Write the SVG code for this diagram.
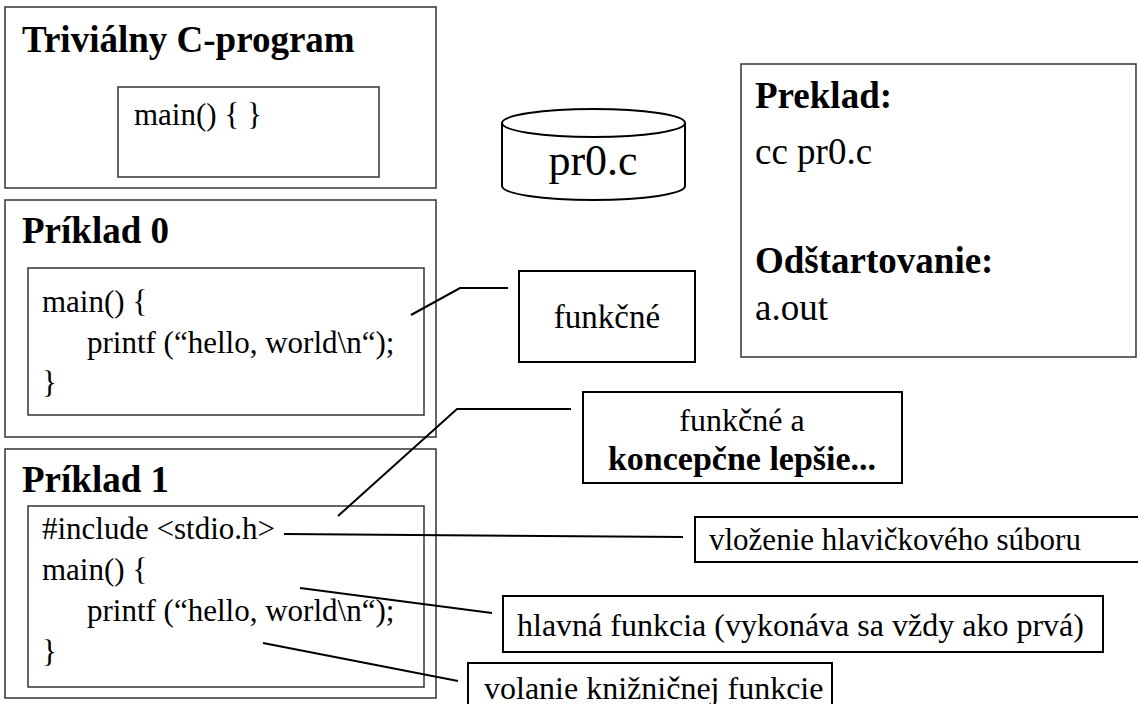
<svg xmlns="http://www.w3.org/2000/svg" width="1138" height="704" viewBox="0 0 1138 704">
<style>
text{font-family:"Times New Roman","Liberation Serif","DejaVu Serif",serif;fill:#000}
.t{font-weight:bold;font-size:37px}
.c{font-size:31px}
.l{font-size:32px}
.outer{fill:#fff;stroke:#333;stroke-width:1.5}
.inner{fill:none;stroke:#333;stroke-width:1.5}
.box{fill:#fff;stroke:#000;stroke-width:2}
.con{fill:none;stroke:#000;stroke-width:2}
</style>
<rect width="1138" height="704" fill="#fff"/>
<g id="trivial">
<rect class="outer" x="5" y="7" width="431" height="181"/>
<rect class="inner" x="118" y="87" width="261" height="90"/>
<text class="t" x="22" y="52" font-size="38">Triviálny C-program</text>
<text class="c" x="134" y="125">main() {  }</text>
</g>
<g id="priklad0">
<rect class="outer" x="5" y="200" width="431" height="237"/>
<rect class="inner" x="28" y="268" width="396" height="147"/>
<text class="t" x="22" y="243">Príklad 0</text>
<text class="c" x="42" y="312">main() {</text>
<text class="c" x="87" y="353">printf (“hello, world\n“);</text>
<text class="c" x="42" y="393">}</text>
</g>
<g id="priklad1">
<rect class="outer" x="5" y="449" width="431" height="249"/>
<rect class="inner" x="28" y="506" width="396" height="181"/>
<text class="t" x="22" y="492">Príklad 1</text>
<text class="c" x="42" y="539">#include &lt;stdio.h&gt;</text>
<text class="c" x="42" y="580">main() {</text>
<text class="c" x="87" y="621">printf (“hello, world\n“);</text>
<text class="c" x="42" y="662">}</text>
</g>
<g id="file">
<path class="box" d="M502,123 L502,186 A91.5,14 0 0 0 685,186 L685,123"/>
<ellipse class="box" cx="593.5" cy="123" rx="91.5" ry="14"/>
<text x="593" y="175" font-size="44" text-anchor="middle">pr0.c</text>
</g>
<g id="funkcne">
<rect class="box" x="519" y="271" width="176" height="91"/>
<text x="607" y="328" font-size="33" text-anchor="middle">funkčné</text>
</g>
<g id="preklad">
<rect class="outer" x="741" y="64" width="395" height="293"/>
<text class="t" x="755" y="108" font-size="38">Preklad:</text>
<text x="755" y="164" font-size="37">cc pr0.c</text>
<text class="t" x="755" y="273" font-size="38">Odštartovanie:</text>
<text x="755" y="320" font-size="37">a.out</text>
</g>
<g id="lepsie">
<rect class="box" x="583" y="392" width="319" height="91"/>
<text x="742" y="431" font-size="32" text-anchor="middle">funkčné a</text>
<text x="742" y="470" font-size="34" font-weight="bold" text-anchor="middle">koncepčne lepšie...</text>
</g>
<g id="vlozenie">
<rect class="box" x="695" y="517" width="450" height="45"/>
<text x="709" y="550" font-size="31">vloženie hlavičkového súboru</text>
</g>
<g id="hlavna">
<rect class="box" x="503" y="596" width="600" height="56"/>
<text class="l" x="517" y="636">hlavná funkcia (vykonáva sa vždy ako prvá)</text>
</g>
<g id="volanie">
<rect class="box" x="468" y="663" width="364" height="50"/>
<text class="l" x="484" y="699">volanie knižničnej funkcie</text>
</g>
<g id="connectors">
<polyline class="con" points="411,315 460,288 508,288"/>
<polyline class="con" points="338,516 457,409 571,409"/>
<line class="con" x1="284" y1="534" x2="683" y2="537"/>
<line class="con" x1="300" y1="588" x2="492" y2="613"/>
<line class="con" x1="263" y1="643" x2="458" y2="681"/>
</g>
</svg>
